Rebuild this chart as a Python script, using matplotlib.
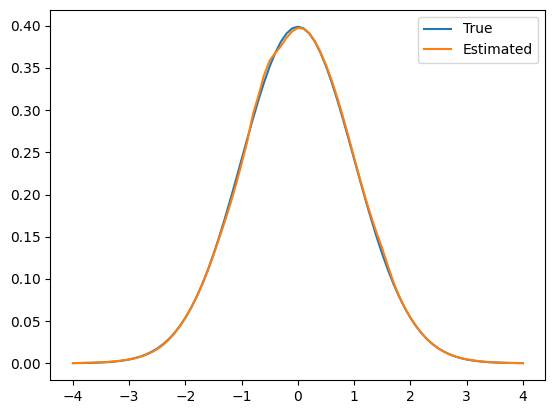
import matplotlib.pyplot as plt
import numpy as np

# grid of x positions (step 0.1 from -4 to 4)
x = np.round(np.arange(-40, 41) / 10, 1)

# right half of the true density (x = 0.0 .. 4.0)
true_half = [0.3989, 0.3970, 0.3910, 0.3814, 0.3683, 0.3521, 0.3332, 0.3123,
             0.2897, 0.2661, 0.2420, 0.2179, 0.1942, 0.1714, 0.1497, 0.1295,
             0.1109, 0.0940, 0.0790, 0.0656, 0.0540, 0.0440, 0.0355, 0.0283,
             0.0224, 0.0175, 0.0136, 0.0104, 0.0079, 0.0060, 0.0044, 0.0033,
             0.0024, 0.0017, 0.0012, 0.0009, 0.0006, 0.0004, 0.0003, 0.0002,
             0.0001]
true_pdf = true_half[:0:-1] + true_half

# estimated density, x = -4.0 .. -0.1
est_left = [0.0002, 0.0003, 0.0004, 0.0006, 0.0008, 0.0011, 0.0015, 0.0020,
            0.0027, 0.0035, 0.0045, 0.0059, 0.0077, 0.0100, 0.0130, 0.0168,
            0.0216, 0.0276, 0.0350, 0.0437, 0.0540, 0.0655, 0.0787, 0.0935,
            0.1100, 0.1285, 0.1480, 0.1680, 0.1890, 0.2120, 0.2370, 0.2630,
            0.2950, 0.3175, 0.3420, 0.3590, 0.3680, 0.3760, 0.3860, 0.3935]
# estimated density, x = 0.0 .. 4.0
est_right = [0.3975, 0.3965, 0.3915, 0.3820, 0.3690, 0.3535, 0.3355, 0.3150,
             0.2925, 0.2685, 0.2440, 0.2195, 0.1960, 0.1745, 0.1545, 0.1360,
             0.1155, 0.0960, 0.0795, 0.0660, 0.0540, 0.0440, 0.0355, 0.0283,
             0.0224, 0.0175, 0.0136, 0.0104, 0.0080, 0.0061, 0.0046, 0.0035,
             0.0026, 0.0019, 0.0014, 0.0010, 0.0007, 0.0005, 0.0003, 0.0002,
             0.0001]
est_pdf = est_left + est_right

fig = plt.figure(figsize=(5.56, 4.13), dpi=100)
ax = fig.add_axes([0.0908, 0.080, 0.890, 0.896])

ax.plot(x, true_pdf, label='True')
ax.plot(x, est_pdf, label='Estimated')
ax.legend(loc='upper right')

fig.savefig('out.png')
